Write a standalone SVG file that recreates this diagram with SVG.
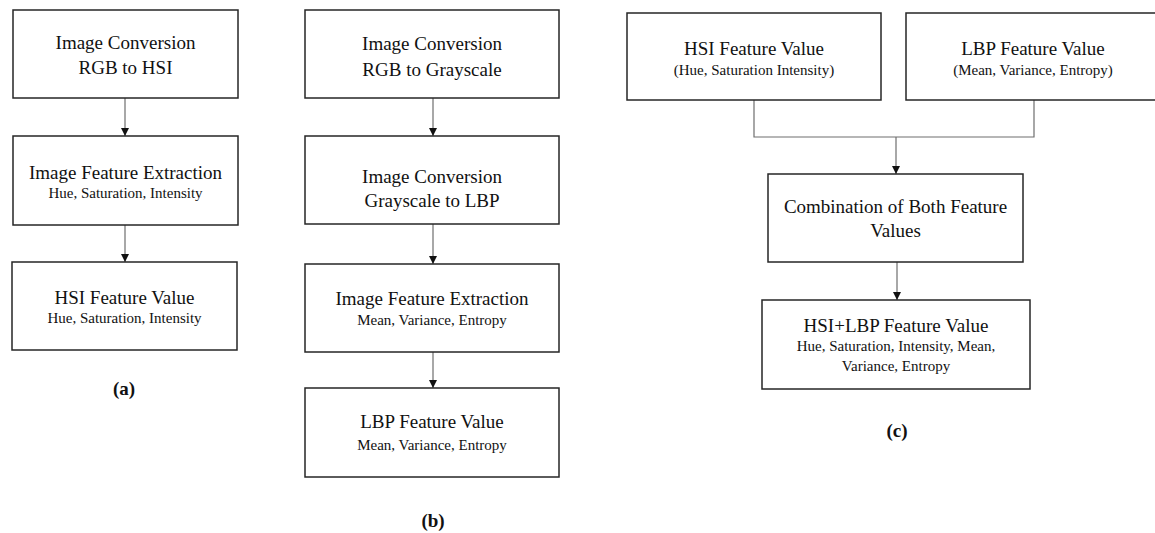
<svg xmlns="http://www.w3.org/2000/svg" width="1155" height="533" viewBox="0 0 1155 533">
  <style>
    .box { fill: #ffffff; stroke: #262626; stroke-width: 1.5; }
    .t { font-family: "Liberation Serif", "Times New Roman", serif; fill: #111; text-anchor: middle; }
    .h { font-size: 19px; }
    .s { font-size: 15px; }
    .cap { font-size: 19px; font-weight: bold; }
    .wire { fill: none; stroke: #6e6e6e; stroke-width: 1.2; }
  </style>
  <defs>
    <marker id="arrow" viewBox="0 0 10 10" refX="10" refY="5" markerWidth="8" markerHeight="8" markerUnits="userSpaceOnUse" orient="auto">
      <path d="M0,0 L10,5 L0,10 Z" fill="#111"/>
    </marker>
  </defs>
  <rect width="1155" height="533" fill="#ffffff"/>

  <!-- connectors -->
  <g id="connectors">
    <line class="wire" x1="125" y1="98" x2="125" y2="136" marker-end="url(#arrow)"/>
    <line class="wire" x1="125" y1="225" x2="125" y2="262" marker-end="url(#arrow)"/>
    <line class="wire" x1="433" y1="98" x2="433" y2="136" marker-end="url(#arrow)"/>
    <line class="wire" x1="433" y1="224" x2="433" y2="264" marker-end="url(#arrow)"/>
    <line class="wire" x1="433" y1="352" x2="433" y2="388" marker-end="url(#arrow)"/>
    <polyline class="wire" points="754,100 754,137 1034,137 1034,100"/>
    <line class="wire" x1="896" y1="137" x2="896" y2="174" marker-end="url(#arrow)"/>
    <line class="wire" x1="897" y1="262" x2="897" y2="300" marker-end="url(#arrow)"/>
  </g>

  <!-- (a) HSI pipeline -->
  <g id="a-conv">
    <rect class="box" x="13" y="10" width="225" height="88"/>
    <text class="t h" x="125.5" y="49">Image Conversion</text>
    <text class="t h" x="125.5" y="74">RGB to HSI</text>
  </g>
  <g id="a-extract">
    <rect class="box" x="13" y="136" width="225" height="89"/>
    <text class="t h" x="125.5" y="179">Image Feature Extraction</text>
    <text class="t s" x="125.5" y="198">Hue, Saturation, Intensity</text>
  </g>
  <g id="a-value">
    <rect class="box" x="12" y="262" width="225" height="88"/>
    <text class="t h" x="124.5" y="304">HSI Feature Value</text>
    <text class="t s" x="124.5" y="323">Hue, Saturation, Intensity</text>
  </g>
  <text class="t cap" x="124" y="395">(a)</text>

  <!-- (b) LBP pipeline -->
  <g id="b-conv1">
    <rect class="box" x="305" y="10" width="254" height="88"/>
    <text class="t h" x="432" y="50">Image Conversion</text>
    <text class="t h" x="432" y="76">RGB to Grayscale</text>
  </g>
  <g id="b-conv2">
    <rect class="box" x="305" y="136" width="254" height="88"/>
    <text class="t h" x="432" y="183">Image Conversion</text>
    <text class="t h" x="432" y="207">Grayscale to LBP</text>
  </g>
  <g id="b-extract">
    <rect class="box" x="305" y="264" width="254" height="88"/>
    <text class="t h" x="432" y="305">Image Feature Extraction</text>
    <text class="t s" x="432" y="325">Mean, Variance, Entropy</text>
  </g>
  <g id="b-value">
    <rect class="box" x="305" y="388" width="254" height="89"/>
    <text class="t h" x="432" y="428">LBP Feature Value</text>
    <text class="t s" x="432" y="450">Mean, Variance, Entropy</text>
  </g>
  <text class="t cap" x="433" y="527">(b)</text>

  <!-- (c) combined features -->
  <g id="c-hsi">
    <rect class="box" x="627" y="13" width="254" height="87"/>
    <text class="t h" x="754" y="55">HSI Feature Value</text>
    <text class="t s" x="754" y="75">(Hue, Saturation Intensity)</text>
  </g>
  <g id="c-lbp">
    <rect class="box" x="906" y="13" width="254" height="87"/>
    <text class="t h" x="1033" y="55">LBP Feature Value</text>
    <text class="t s" x="1033" y="75">(Mean, Variance, Entropy)</text>
  </g>
  <g id="c-combine">
    <rect class="box" x="768" y="174" width="255" height="88"/>
    <text class="t h" x="895.5" y="213">Combination of Both Feature</text>
    <text class="t h" x="895.5" y="237">Values</text>
  </g>
  <g id="c-value">
    <rect class="box" x="762" y="300" width="268" height="89"/>
    <text class="t h" x="896" y="332">HSI+LBP Feature Value</text>
    <text class="t s" x="896" y="351">Hue, Saturation, Intensity, Mean,</text>
    <text class="t s" x="896" y="371">Variance, Entropy</text>
  </g>
  <text class="t cap" x="897" y="437">(c)</text>
</svg>
